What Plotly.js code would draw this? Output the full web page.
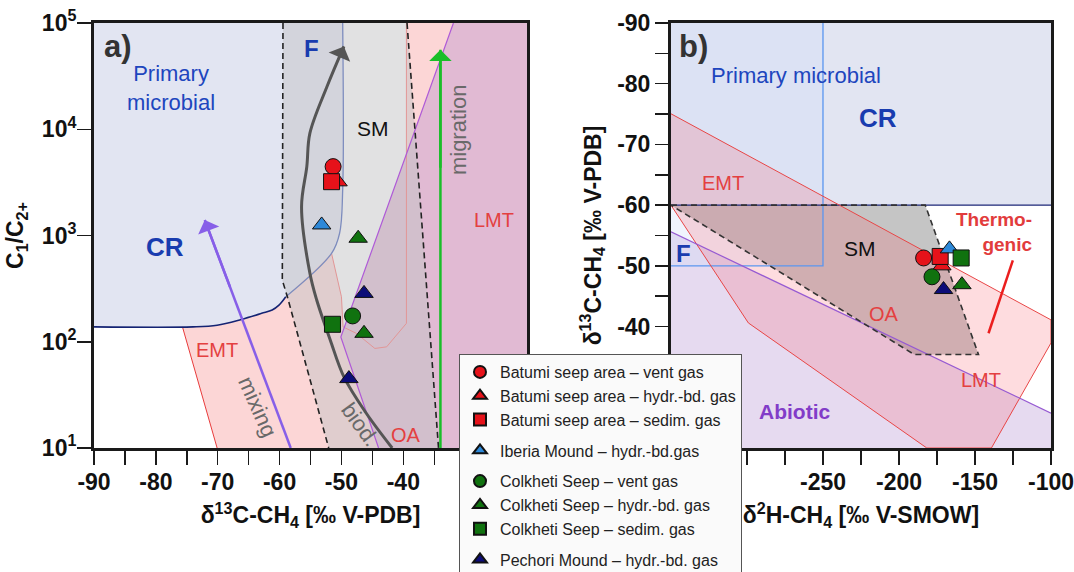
<!DOCTYPE html>
<html><head><meta charset="utf-8">
<script src="https://cdn.plot.ly/plotly-3.0.1.min.js"></script>
<style>html,body{margin:0;padding:0;background:#fff}#chart{width:1074px;height:572px}</style>
</head><body><div id="chart"></div>
<script>
// ================= DATA =================
const seriesNames = [
  'Batumi seep area – vent gas', 'Batumi seep area – hydr.-bd. gas', 'Batumi seep area – sedim. gas',
  'Iberia Mound – hydr.-bd.gas',
  'Colkheti Seep – vent gas', 'Colkheti Seep – hydr.-bd. gas', 'Colkheti Seep – sedim. gas',
  'Pechori Mound – hydr.-bd. gas'];
const seriesSite = ['Batumi', 'Batumi', 'Batumi', 'Iberia', 'Colkheti', 'Colkheti', 'Colkheti', 'Pechori'];

// panel a) : d13C-CH4 vs C1/C2+
const d13C_a = [[-51.35], [-50.55], [-51.6], [-53.2], [-48.2], [-47.3, -46.35], [-51.45], [-46.35, -48.8]];
const c1c2_a = [[4450], [3200], [3210], [1257], [175], [942, 120], [146], [285, 45]];
// panel b) : d2H-CH4 vs d13C-CH4
const d2H_b = [[-183.8], [-171.8], [-172.9], [-166.8], [-178.3], [-158.6], [-159.1], [-170.7]];
const d13C_b = [[-51.3], [-50.0], [-51.55], [-52.8], [-48.2], [-46.9], [-51.3], [-46.1]];

// ---- genetic fields, panel a) (x = d13C, y = C1/C2+) ----
const aMicrobialX = [-90, -49.8, -49.8, -50.3, -51.6, -59.0, -60.1, -61.2, -62.9, -66.2, -70.1, -74.0, -90];
const aMicrobialY = [1e5, 1e5, 2690, 1050, 679, 265, 221, 199, 185, 162, 143, 138, 138];
const aMicrobialLowX = [-90, -74.0, -70.1, -66.2, -62.9, -61.2, -60.1, -59.0];
const aMicrobialLowY = [138, 138, 143, 162, 185, 199, 221, 265];
const aMicrobialSideX = [-59.0, -51.6, -50.3, -49.8, -49.8];
const aMicrobialSideY = [265, 679, 1050, 2690, 1e5];
const aSMX = [-59.45, -59.56, -58.74, -52.06, -34.31, -39.40];
const aSMY = [1e5, 380, 265, 10, 10, 1e5];
const aSMLeftX = [-59.45, -59.56, -58.74, -52.06];
const aSMLeftY = [1e5, 380, 265, 10];
const aSMRightX = [-39.40, -34.31];
const aSMRightY = [1e5, 10];
const aEMTTopX = [-39.5, -31.9, -39.5];
const aEMTTopY = [1e5, 1e5, 5650];
const aEMTX = [-75.7, -74.0, -70.1, -66.2, -62.9, -61.2, -60.1, -59.0, -51.6, -50.0, -49.7, -50.1, -44.0, -70.1];
const aEMTY = [138, 138, 143, 162, 185, 199, 221, 265, 679, 265, 138, 111, 10, 10];
const aEMTEdgeX = [-75.7, -70.1];
const aEMTEdgeY = [138, 10];
const aLMTX = [-31.9, -20, -20, -44.0, -50.1];
const aLMTY = [1e5, 1e5, 10, 10, 111];
const aLMTEdgeX = [-31.9, -50.1, -44.0];
const aLMTEdgeY = [1e5, 111, 10];
const aOAEdgeX = [-51.6, -50.0, -49.74, -47.6, -44.6, -42.7, -39.5, -39.5];
const aOAEdgeY = [679, 265, 138, 120, 86.5, 89.5, 149, 1e5];
// process trends, panel a)
const biodX = [-41.8, -46.1, -49.6, -51.8, -54.0, -55.1, -56.45, -55.6, -55.1, -52.35, -49.6];
const biodY = [10, 21.7, 46.7, 103.5, 247, 441, 1866, 4446, 9183, 25100, 60250];
const mixingX = [-58.2, -72.1];
const mixingY = [10, 1400];
const migrationX = [-34.0, -34.0];
const migrationY = [10, 56000];

// ---- genetic fields, panel b) (x = d2H, y = d13C) ----
const bCRX = [-350, -100, -100, -350];
const bCRY = [-90, -90, -60, -60];
const bCREdgeX = [-350, -100];
const bCREdgeY = [-60, -60];
const bFX = [-350, -250, -250, -350];
const bFY = [-90, -90, -50, -50];
const bFEdgeX = [-250, -250, -350];
const bFEdgeY = [-90, -50, -50];
const bEMTX = [-350, -100, -100, -139.2, -181.7, -299.1, -350];
const bEMTY = [-75.05, -41.1, -37.3, -20, -20, -40.6, -60];
const bSMX = [-350, -182.7, -147.7, -190, -350];
const bSMY = [-60, -60, -35.4, -35.4, -60];
const bAbioticX = [-350, -100, -100, -350];
const bAbioticY = [-55.6, -25.75, -20, -20];
const bAbioticEdgeX = [-350, -100];
const bAbioticEdgeY = [-55.6, -25.75];
const bThermoPointerX = [-125.1, -141.1];
const bThermoPointerY = [-50.9, -38.9];

// ---- ticks ----
const aXTickVals = [-90, -80, -70, -60, -50, -40];
const aXTickText = ['-90', '-80', '-70', '-60', '-50', '-40'];
const aXMinorVals = [-90, -85, -80, -75, -70, -65, -60, -55, -50, -45, -40, -35, -30, -25, -20];
const aYTickVals = [10, 100, 1000, 10000, 100000];
const aYTickText = ['10<sup>1</sup>', '10<sup>2</sup>', '10<sup>3</sup>', '10<sup>4</sup>', '10<sup>5</sup>'];
const bXTickVals = [-250, -200, -150, -100];
const bXTickText = ['-250', '-200', '-150', '-100'];
const bXMinorVals = [-350, -325, -300, -275, -250, -225, -200, -175, -150, -125, -100];
const bYTickVals = [-90, -80, -70, -60, -50, -40];
const bYTickText = ['-90', '-80', '-70', '-60', '-50', '-40'];
const bYMinorVals = [-90, -85, -80, -75, -70, -65, -60, -55, -50, -45, -40, -35, -30, -25, -20];

// ================= STYLE =================
const FONT = 'Liberation Sans, Arial, Helvetica, sans-serif';
const markerSymbols = ['circle', 'triangle-up', 'square', 'triangle-up', 'circle', 'triangle-up', 'square', 'triangle-up'];
const markerColors = ['#e6121a', '#e6121a', '#e6121a', '#2d88d8', '#10720f', '#10720f', '#10720f', '#0c0c78'];
const markerSizes = [16, 16, 16, 16, 16, 16, 16, 16];
const BLUE = 'rgb(25,60,175)', RED = 'rgb(228,64,64)', GREY = 'rgb(105,105,105)';

function area(xs, ys, xa, ya, fill) {
  return {type: 'scatter', mode: 'lines', x: xs, y: ys, xaxis: xa, yaxis: ya, fill: 'toself',
    fillcolor: fill, line: {width: 0}, hoverinfo: 'skip', showlegend: false};
}
function path(xs, ys, xa, ya, color, width, dash, shape) {
  return {type: 'scatter', mode: 'lines', x: xs, y: ys, xaxis: xa, yaxis: ya,
    line: {color: color, width: width, dash: dash || 'solid', shape: shape || 'linear', smoothing: 1},
    hoverinfo: 'skip', showlegend: false};
}

const traces = [
  // panel a fields
  area(aLMTX, aLMTY, 'x', 'y', 'rgba(200,130,175,0.55)'),
  area(aEMTX, aEMTY, 'x', 'y', 'rgba(250,180,180,0.55)'),
  area(aEMTTopX, aEMTTopY, 'x', 'y', 'rgba(250,180,180,0.55)'),
  area(aMicrobialX, aMicrobialY, 'x', 'y', 'rgba(190,198,226,0.45)'),
  area(aSMX, aSMY, 'x', 'y', 'rgba(195,195,198,0.5)'),
  path(aOAEdgeX, aOAEdgeY, 'x', 'y', 'rgb(226,150,150)', 1),
  path(aEMTEdgeX, aEMTEdgeY, 'x', 'y', 'rgb(232,60,60)', 1),
  path(aLMTEdgeX, aLMTEdgeY, 'x', 'y', 'rgb(175,90,215)', 1.2),
  path(aMicrobialLowX, aMicrobialLowY, 'x', 'y', 'rgb(20,35,115)', 1.6, 'solid', 'spline'),
  path(aMicrobialSideX, aMicrobialSideY, 'x', 'y', 'rgb(125,140,190)', 1.3, 'solid', 'spline'),
  path(aSMLeftX, aSMLeftY, 'x', 'y', '#222', 1.6, '6px,4px'),
  path(aSMRightX, aSMRightY, 'x', 'y', '#222', 1.6, '6px,4px'),
  path(biodX, biodY, 'x', 'y', 'rgb(85,85,85)', 3, 'solid', 'spline'),
  path(mixingX, mixingY, 'x', 'y', 'rgb(135,95,232)', 2.5),
  path(migrationX, migrationY, 'x', 'y', 'rgb(25,190,40)', 2.5),
  // panel b fields
  area(bAbioticX, bAbioticY, 'x2', 'y2', 'rgba(184,149,212,0.35)'),
  area(bCRX, bCRY, 'x2', 'y2', 'rgba(190,198,226,0.45)'),
  area(bFX, bFY, 'x2', 'y2', 'rgba(205,218,250,0.3)'),
  area(bSMX, bSMY, 'x2', 'y2', 'rgba(140,140,140,0.5)'),
  area(bEMTX, bEMTY, 'x2', 'y2', 'rgba(250,97,110,0.22)'),
  path(bCREdgeX, bCREdgeY, 'x2', 'y2', 'rgb(30,40,120)', 1.3),
  path(bFEdgeX, bFEdgeY, 'x2', 'y2', 'rgb(90,150,240)', 1.3),
  path(bEMTX, bEMTY, 'x2', 'y2', 'rgb(232,70,70)', 1),
  path(bAbioticEdgeX, bAbioticEdgeY, 'x2', 'y2', 'rgb(150,90,210)', 1.2),
  path(bSMX, bSMY, 'x2', 'y2', '#333', 1.6, '6px,4px'),
  path(bThermoPointerX, bThermoPointerY, 'x2', 'y2', 'rgb(235,30,30)', 2.5)
];

// data markers
for (let i = 0; i < seriesNames.length; i++) {
  const mk = {symbol: markerSymbols[i], color: markerColors[i], size: markerSizes[i], line: {color: '#111', width: 1}};
  traces.push({type: 'scatter', mode: 'markers', name: seriesNames[i], legendgroup: seriesSite[i],
    x: d13C_a[i], y: c1c2_a[i], xaxis: 'x', yaxis: 'y', marker: mk, hoverinfo: 'skip'});
  traces.push({type: 'scatter', mode: 'markers', name: seriesNames[i], legendgroup: seriesSite[i], showlegend: false,
    x: d2H_b[i], y: d13C_b[i], xaxis: 'x2', yaxis: 'y2', marker: mk, hoverinfo: 'skip'});
}

// arrow heads (log y on panel a)
function head(xs, ys, color, width, size) {
  const n = xs.length;
  const tx = xs[n - 1], ty = Math.log10(ys[n - 1]);
  const px = xs[n - 2], py = Math.log10(ys[n - 2]);
  const f = 0.3;
  return {x: tx, y: ty, ax: tx + (px - tx) * f, ay: ty + (py - ty) * f, xref: 'x', yref: 'y', axref: 'x', ayref: 'y',
    showarrow: true, arrowhead: 1, arrowsize: size, arrowwidth: width, arrowcolor: color, text: ''};
}
function lab(text, x, y, xr, yr, size, color, bold, angle, extra) {
  return Object.assign({text: text, x: x, y: y, xref: xr, yref: yr, showarrow: false,
    font: {family: FONT, size: size, color: color, weight: bold ? 'bold' : 'normal'},
    textangle: angle || 0}, extra || {});
}
const L = Math.log10;
const annotations = [
  head(biodX, biodY, 'rgb(85,85,85)', 3, 1.3),
  head(mixingX, mixingY, 'rgb(135,95,232)', 2.5, 1.5),
  head(migrationX, migrationY, 'rgb(25,190,40)', 2.5, 1.5),
  lab('a)', -86.2, L(60256), 'x', 'y', 31, '#333', true),
  lab('F', -54.85, L(58070), 'x', 'y', 24, BLUE, true),
  lab('Primary<br>microbial', -77.6, L(24380), 'x', 'y', 22, 'rgb(30,70,190)', false),
  lab('SM', -44.95, L(10230), 'x', 'y', 21, '#111', false),
  lab('migration', -30.97, L(9860), 'x', 'y', 22, GREY, false, -90),
  lab('LMT', -25.4, L(1400), 'x', 'y', 20, RED, false),
  lab('CR', -78.45, L(783), 'x', 'y', 26, BLUE, true),
  lab('EMT', -70.1, L(83.4), 'x', 'y', 20, RED, false),
  lab('mixing', -63.45, L(24.3), 'x', 'y', 22, GREY, false, 66),
  lab('biod.', -47.0, L(16.5), 'x', 'y', 22, GREY, false, 54),
  lab('OA', -39.6, L(13.2), 'x', 'y', 20, RED, false),
  lab('b)', -335, -86.1, 'x2', 'y2', 31, '#333', true),
  lab('Primary microbial', -268, -81.3, 'x2', 'y2', 22, 'rgb(30,70,190)', false),
  lab('CR', -214.1, -74.35, 'x2', 'y2', 26, BLUE, true),
  lab('EMT', -316, -63.7, 'x2', 'y2', 20, RED, false),
  lab('SM', -225.8, -52.9, 'x2', 'y2', 21, '#111', false),
  lab('F', -341.7, -52.1, 'x2', 'y2', 24, BLUE, true),
  lab('Thermo-<br>genic', -110.9, -55.6, 'x2', 'y2', 19, 'rgb(226,60,60)', true, 0, {xanchor: 'right', align: 'right'}),
  lab('OA', -209.7, -42, 'x2', 'y2', 20, RED, false),
  lab('LMT', -145.9, -31.25, 'x2', 'y2', 20, RED, false),
  lab('Abiotic', -269, -26.0, 'x2', 'y2', 21, 'rgb(130,60,200)', true)
];

const axCommon = {showline: true, linewidth: 3, linecolor: '#1a1a1a', mirror: true, showgrid: false, zeroline: false,
  ticks: 'outside', tickwidth: 1.5, tickcolor: '#1a1a1a', tickmode: 'array', ticklabeloverflow: 'allow',
  tickfont: {family: FONT, size: 23, color: '#111', weight: 'bold'}};
function minor(vals, len) {
  return {tickmode: 'array', tickvals: vals, ticks: 'outside', ticklen: len, tickwidth: 1.5, tickcolor: '#1a1a1a', showgrid: false};
}
const titleFont = {family: FONT, size: 23, color: '#111', weight: 'bold'};

const layout = {
  width: 1074, height: 572,
  margin: {l: 94, r: 23, t: 23, b: 124, autoexpand: false},
  paper_bgcolor: '#fff', plot_bgcolor: '#fff',
  font: {family: FONT},
  showlegend: true,
  xaxis: Object.assign({}, axCommon, {domain: [0, 0.4525], range: [-90, -20], anchor: 'y',
    tickvals: aXTickVals, ticktext: aXTickText, ticklen: 14, ticklabelstandoff: -3, minor: minor(aXMinorVals, 14),
    title: {text: 'δ<sup>13</sup>C-CH<sub>4</sub> [‰ V-PDB]', font: titleFont, standoff: 14}}),
  yaxis: Object.assign({}, axCommon, {type: 'log', range: [1, 5], anchor: 'x',
    tickvals: aYTickVals, ticktext: aYTickText, ticklen: 14, ticklabelstandoff: -4,
    title: {text: 'C<sub>1</sub>/C<sub>2+</sub>', font: titleFont, standoff: 12}}),
  xaxis2: Object.assign({}, axCommon, {domain: [0.6029, 1], range: [-350, -100], anchor: 'y2',
    tickvals: bXTickVals, ticktext: bXTickText, ticklen: 14, ticklabelstandoff: -3, minor: minor(bXMinorVals, 14),
    title: {text: 'δ<sup>2</sup>H-CH<sub>4</sub> [‰ V-SMOW]', font: titleFont, standoff: 14}}),
  yaxis2: Object.assign({}, axCommon, {range: [-20, -90], anchor: 'x2',
    tickvals: bYTickVals, ticktext: bYTickText, ticklen: 13, minor: minor(bYMinorVals, 13),
    title: {text: 'δ<sup>13</sup>C-CH<sub>4</sub> [‰ V-PDB]', font: titleFont, standoff: 10}}),
  legend: {x: 0.3814, y: 0.2212, xanchor: 'left', yanchor: 'top', xref: 'paper', yref: 'paper',
    bgcolor: 'rgb(250,250,250)', bordercolor: '#555', borderwidth: 1,
    font: {family: FONT, size: 16, color: '#222'}, tracegroupgap: 7, itemsizing: 'constant', traceorder: 'grouped'},
  annotations: annotations
};

Plotly.newPlot('chart', traces, layout, {staticPlot: true, displayModeBar: false});
</script>
</body></html>
